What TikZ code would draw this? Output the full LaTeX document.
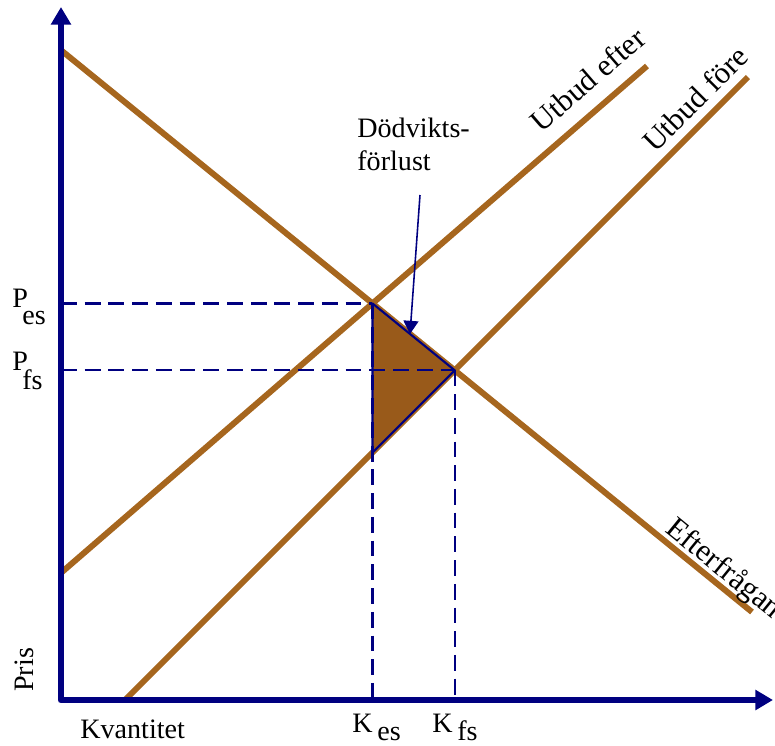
\documentclass[tikz,border=0pt]{standalone}
\usepackage{fontspec}
\setmainfont{Liberation Serif}
\usetikzlibrary{arrows.meta}
\definecolor{axelbla}{RGB}{0,0,128}
\definecolor{brun}{RGB}{166,102,30}
\definecolor{brunfyll}{RGB}{153,90,26}

\begin{document}
\begin{tikzpicture}[x=0.02cm, y=-0.02cm,
  axel/.style={axelbla, line width=3.8pt, line join=round,
    {Triangle[width=11pt,length=10pt]}-{Triangle[width=11pt,length=10pt]}},
  kurva/.style={brun, line width=3.4pt},
  hjalp/.style={axelbla, line width=1.3pt, dash pattern=on 9pt off 4.5pt},
  pil/.style={axelbla, line width=0.9pt, -{Triangle[width=8.5pt,length=7.5pt]}},
  etikett/.style={inner sep=0pt, font=\fontsize{16}{18.7}\selectfont},
  linjetext/.style={inner sep=0pt, anchor=base west, font=\fontsize{17.5}{20}\selectfont}]

  \useasboundingbox (0,0) rectangle (775,745);

  % Axlar och linjernas ändpunkter
  \coordinate (O) at (61,700);
  \coordinate (ytopp) at (61,7);
  \coordinate (xslut) at (773,700);
  \coordinate (D1) at (62,51);
  \coordinate (D2) at (752,612);
  \coordinate (Se1) at (62,572);
  \coordinate (Se2) at (647,66);
  \coordinate (Sf1) at (125,700);
  \coordinate (Sf2) at (748,77);

  % Jämvikter
  \coordinate (Es) at (intersection of D1--D2 and Se1--Se2);
  \coordinate (Fs) at (intersection of D1--D2 and Sf1--Sf2);
  \coordinate (Kes) at (Es |- O);
  \coordinate (Kfs) at (Fs |- O);
  \coordinate (Pes) at (O |- Es);
  \coordinate (Pfs) at (O |- Fs);
  \coordinate (Bot) at (intersection of Es--Kes and Sf1--Sf2);

  % Efterfrågan och utbud
  \draw[kurva] (D1) -- (D2);
  \draw[kurva] (Se1) -- (Se2);
  \draw[kurva] (Sf1) -- (Sf2);

  % Dödviktsförlust
  \filldraw[fill=brunfyll, draw=axelbla, line width=1.2pt, line join=round]
    (Es) -- (Fs) -- (Bot) -- cycle;

  % Hjälplinjer
  \draw[hjalp] (Pes) -- (Es);
  \draw[hjalp] (Pfs) -- (Fs);
  \draw[hjalp] (Es) -- (Kes);
  \draw[hjalp] (Fs) -- (Kfs);

  \draw[axel] (ytopp) -- (O) -- (xslut);

  % Texter
  \node[etikett, anchor=base west] (pes) at (12,307) {P\hspace{-0.2em}\raisebox{-0.62em}{es}};
  \node[etikett, anchor=base west] (pfs) at (12,370) {P\hspace{-0.2em}\raisebox{-0.7em}{fs}};
  \node[etikett, anchor=base west] (kes) at (352,732) {K\,\raisebox{-0.3em}{es}};
  \node[etikett, anchor=base west] (kfs) at (432,732) {K\,\raisebox{-0.3em}{fs}};
  \node[etikett, anchor=base west] (kvant) at (80,738) {Kvantitet};
  \node[etikett, anchor=base west, rotate=90] (pris) at (33,692) {Pris};
  \node[linjetext, rotate=40.9] (efter) at (541,134) {Utbud efter};
  \node[linjetext, rotate=45] (fore) at (655,154) {Utbud före};
  \node[linjetext, rotate=-39.2] (efterfr) at (664,531) {Efterfrågan};
  \node[etikett, anchor=north west, align=left] (dvf) at (357,118) {Dödvikts-\\förlust};

  \coordinate (pilstart) at (420,195);
  \coordinate (piltopp) at (410,334);
  \draw[pil] (pilstart) -- (piltopp);

\end{tikzpicture}
\end{document}
